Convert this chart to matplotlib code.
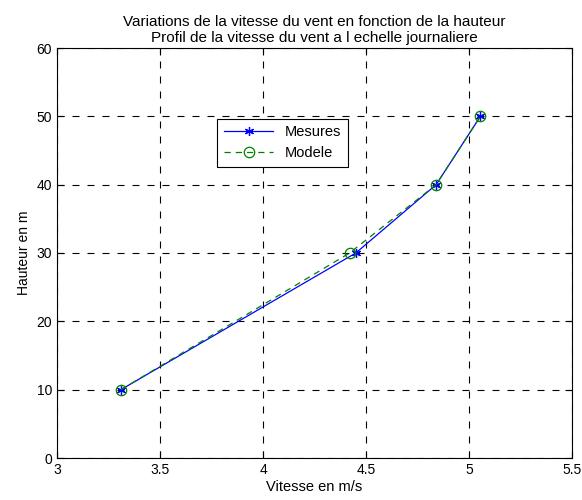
import matplotlib as mpl
mpl.use('agg')
import matplotlib.pyplot as plt

plt.rcParams['font.family'] = ['Liberation Sans', 'DejaVu Sans']
plt.rcParams['font.size'] = 10

# Wind speed (m/s) against height (m)
hauteur = [10, 30, 40, 50]
vitesse_mes = [3.31, 4.45, 4.84, 5.055]
vitesse_mod = [3.31, 4.42, 4.84, 5.055]

xticks = [3, 3.5, 4, 4.5, 5, 5.5]
yticks = [0, 10, 20, 30, 40, 50, 60]

fig = plt.figure(figsize=(5.82, 5.0), dpi=100)
ax = fig.add_axes([0.098, 0.084, 0.885, 0.82])

ax.plot(vitesse_mes, hauteur, '-', color=(0, 0, 1), lw=0.9,
        marker=(6, 2, 0), ms=6.5, mew=0.9, label='Mesures')
ax.plot(vitesse_mod, hauteur, '--', color=(0, 0.5, 0), lw=0.9,
        marker='o', ms=7.5, mfc='none', mew=0.9, label='Modele', dashes=(5, 4))

ax.set_xlim(3, 5.5)
ax.set_ylim(0, 60)
ax.set_xticks(xticks)
ax.set_xticklabels(['3', '3.5', '4', '4.5', '5', '5.5'])
ax.set_yticks(yticks)
ax.tick_params(direction='in', top=True, right=True, length=5, width=0.8,
               labelsize=10)
ax.grid(True, color='black', linestyle=(0, (6.3, 7.2)), linewidth=0.8)
for s in ax.spines.values():
    s.set_linewidth(0.8)

ax.set_xlabel('Vitesse en m/s', fontsize=10.5, labelpad=2)
ax.set_ylabel('Hauteur en m', labelpad=4)
ax.set_title('Variations de la vitesse du vent en fonction de la hauteur\n'
             'Profil de la vitesse du vent a l echelle journaliere',
             fontsize=11, pad=4, linespacing=1.25)

leg = ax.legend(loc='upper left', bbox_to_anchor=(0.311, 0.827),
                borderaxespad=0, fancybox=False, framealpha=1,
                edgecolor='black', fontsize=10.5, borderpad=0.45,
                handlelength=3.4, labelspacing=0.45)
leg.get_frame().set_linewidth(0.8)

fig.savefig('out.png')
